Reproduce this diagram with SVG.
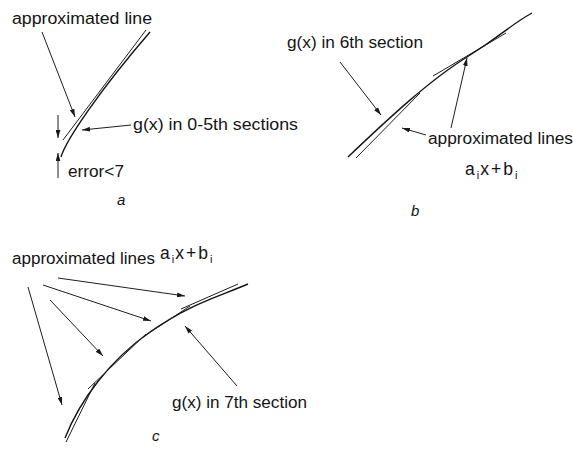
<svg xmlns="http://www.w3.org/2000/svg" width="573" height="452" viewBox="0 0 573 452">
  <defs>
    <marker id="head" viewBox="0 0 10 6" refX="10" refY="3" markerWidth="8" markerHeight="5" markerUnits="userSpaceOnUse" orient="auto">
      <path d="M0,0 L10,3 L0,6 z" fill="#1a1a1a"/>
    </marker>
    <style>
      .lbl { font-family: "Liberation Sans", Arial, sans-serif; font-size: 16px; fill: #141414; }
      .formula { font-family: "Liberation Sans", Arial, sans-serif; font-size: 17.5px; letter-spacing: 2px; fill: #141414; }
      .sub { font-size: 11px; letter-spacing: 1px; }
      .tag { font-family: "Liberation Sans", Arial, sans-serif; font-size: 15px; font-style: italic; fill: #141414; }
      .curve { fill: none; stroke: #141414; stroke-width: 1.4; }
      .approx { fill: none; stroke: #1e1e1e; stroke-width: 1; }
      .arrow { fill: none; stroke: #1e1e1e; stroke-width: 1; marker-end: url(#head); }
    </style>
  </defs>
  <rect width="573" height="452" fill="#ffffff"/>

  <!-- panel a: sections 0-5 -->
  <g id="panel-a">
    <path class="curve" d="M61,157 C66,140 100,90 150,32"/>
    <line class="approx" x1="63" y1="140" x2="146" y2="30"/>
    <text class="lbl" x="12" y="24" textLength="140" lengthAdjust="spacingAndGlyphs">approximated line</text>
    <text class="lbl" x="133" y="130" textLength="165" lengthAdjust="spacingAndGlyphs">g(x) in 0-5th sections</text>
    <text class="lbl" x="68" y="177" textLength="56" lengthAdjust="spacingAndGlyphs">error&lt;7</text>
    <text class="tag" x="117" y="205">a</text>
  </g>

  <!-- panel b: section 6 -->
  <g id="panel-b">
    <path class="curve" d="M348,157 C390,117 430,80 467,57 S510,25 532,13"/>
    <line class="approx" x1="356" y1="158" x2="420" y2="93"/>
    <line class="approx" x1="433" y1="76" x2="506" y2="33"/>
    <text class="lbl" x="287" y="48" textLength="136" lengthAdjust="spacingAndGlyphs">g(x) in 6th section</text>
    <text class="lbl" x="428" y="144" textLength="145" lengthAdjust="spacingAndGlyphs">approximated lines</text>
    <text class="formula" x="465" y="175">a<tspan class="sub" dy="4">i</tspan><tspan dy="-4">x+b</tspan><tspan class="sub" dy="4">i</tspan></text>
    <text class="tag" x="411" y="216">b</text>
  </g>

  <!-- panel c: section 7 -->
  <g id="panel-c">
    <path class="curve" d="M65,438 C80,400 110,360 150,332 S215,298 248,284"/>
    <line class="approx" x1="66" y1="442" x2="95" y2="383"/>
    <line class="approx" x1="88" y1="389" x2="146" y2="334"/>
    <line class="approx" x1="143" y1="337" x2="190" y2="306"/>
    <line class="approx" x1="181" y1="309" x2="238" y2="284"/>
    <text class="lbl" x="12" y="264" textLength="143" lengthAdjust="spacingAndGlyphs">approximated lines</text>
    <text class="formula" x="160" y="259">a<tspan class="sub" dy="4">i</tspan><tspan dy="-4">x+b</tspan><tspan class="sub" dy="4">i</tspan></text>
    <text class="lbl" x="172" y="408" textLength="135" lengthAdjust="spacingAndGlyphs">g(x) in 7th section</text>
    <text class="tag" x="152" y="441">c</text>
  </g>

  <!-- pointer arrows -->
  <g id="connectors">
    <line class="arrow" x1="42" y1="32" x2="75" y2="117"/>
    <line class="arrow" x1="58" y1="115" x2="58" y2="138"/>
    <line class="arrow" x1="58" y1="178" x2="58" y2="153"/>
    <line class="arrow" x1="131" y1="125" x2="82" y2="130"/>

    <line class="arrow" x1="340" y1="62" x2="381" y2="115"/>
    <line class="arrow" x1="451" y1="128" x2="467" y2="58"/>
    <line class="arrow" x1="426" y1="135" x2="402" y2="128"/>

    <line class="arrow" x1="58" y1="278" x2="185" y2="296"/>
    <line class="arrow" x1="43" y1="285" x2="151" y2="321"/>
    <line class="arrow" x1="50" y1="300" x2="103" y2="356"/>
    <line class="arrow" x1="28" y1="287" x2="62" y2="405"/>
    <line class="arrow" x1="237" y1="386" x2="185" y2="326"/>
  </g>
</svg>
